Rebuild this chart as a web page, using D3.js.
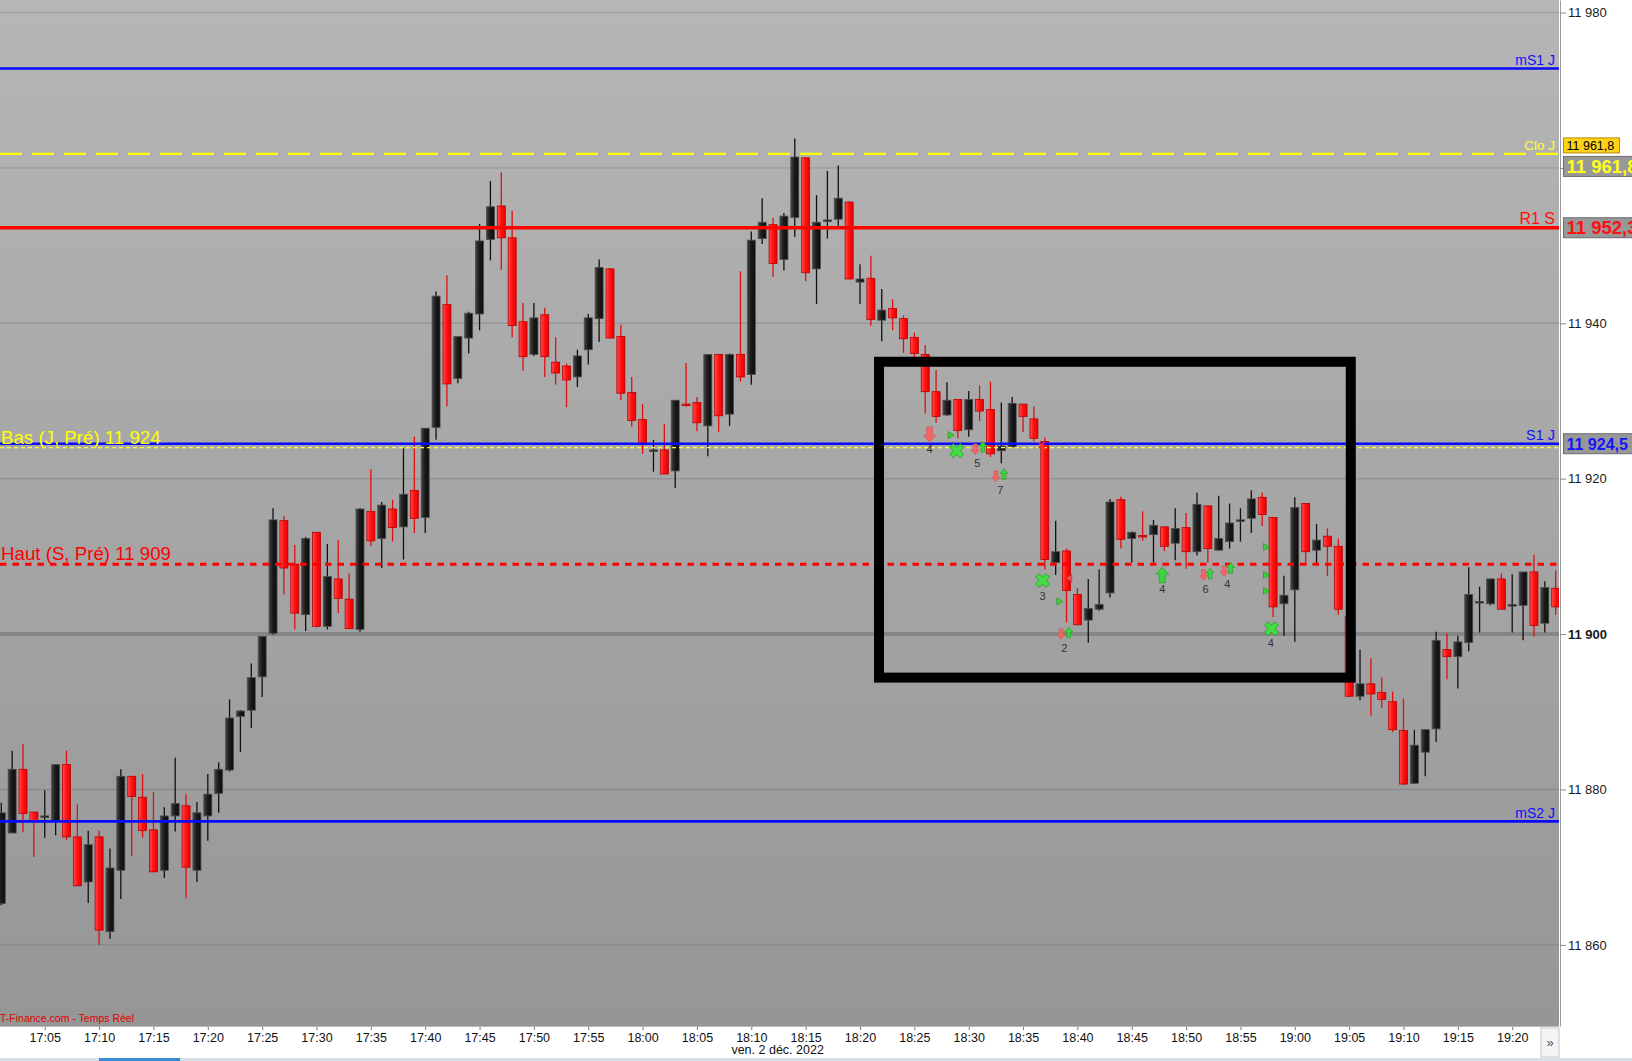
<!DOCTYPE html>
<html>
<head>
<meta charset="utf-8">
<script src="https://d3js.org/d3.v7.min.js"></script>
<style>
  body { margin: 0; background: #fff; overflow: hidden; }
  svg { display: block; font-family: "Liberation Sans", Arial, sans-serif; }
</style>
</head>
<body>
<svg class="chart"></svg>
<script>
// 1 minute candles, first one at 17:01
var firstCandle = "17:01";

var opens = [
  11865.3, 11874.4, 11882.6, 11877.1, 11876.5, 11875.9, 11883.2, 11873.9, 11868.1, 11873.9,
  11861.7, 11869.6, 11881.7, 11879.0, 11874.8, 11869.6, 11876.6, 11877.9, 11869.6, 11876.6,
  11879.5, 11882.5, 11889.4, 11890.2, 11894.5, 11900.1, 11914.6, 11909.0, 11902.5, 11913.1,
  11901.0, 11907.1, 11904.5, 11900.6, 11915.8, 11912.3, 11916.1, 11913.8, 11918.5, 11915.0,
  11926.6, 11942.4, 11932.9, 11938.1, 11941.2, 11950.8, 11955.1, 11951.0, 11940.2, 11936.0,
  11941.1, 11935.0, 11934.5, 11933.1, 11936.6, 11940.6, 11947.0, 11938.3, 11931.1, 11927.6,
  11923.6, 11923.7, 11921.0, 11929.6, 11929.8, 11926.8, 11936.0, 11928.3, 11936.0, 11933.4,
  11950.9, 11952.7, 11948.2, 11953.6, 11961.3, 11947.0, 11953.2, 11953.4, 11955.6, 11945.3,
  11945.8, 11940.4, 11941.9, 11940.6, 11938.2, 11936.0, 11931.2, 11928.2, 11930.2, 11926.3,
  11930.2, 11928.9, 11923.6, 11924.1, 11929.6, 11927.7, 11924.8, 11909.2, 11910.7, 11905.1,
  11901.8, 11903.2, 11905.3, 11917.3, 11912.3, 11912.7, 11912.8, 11913.8, 11911.7, 11913.7,
  11910.6, 11916.5, 11910.8, 11911.9, 11914.6, 11914.9, 11917.6, 11915.0, 11903.9, 11905.7,
  11916.8, 11910.8, 11912.6, 11911.3, 11902.2, 11892.0, 11893.6, 11892.5, 11891.3, 11887.6,
  11880.8, 11884.8, 11887.8, 11898.0, 11897.1, 11898.9, 11904.1, 11903.9, 11907.1, 11903.7,
  11903.7, 11908.0, 11901.4, 11905.9
];
var highs = [
  11878.3, 11885.0, 11885.9, 11877.1, 11879.9, 11883.2, 11885.0, 11878.1, 11874.7, 11874.7,
  11872.4, 11882.6, 11881.7, 11882.0, 11879.7, 11877.7, 11884.1, 11879.4, 11878.4, 11882.0,
  11883.5, 11891.6, 11890.2, 11896.2, 11899.7, 11916.2, 11915.2, 11911.5, 11912.5, 11913.1,
  11911.6, 11912.1, 11907.8, 11916.2, 11921.2, 11917.0, 11917.3, 11923.9, 11925.4, 11926.5,
  11944.1, 11946.2, 11938.3, 11941.5, 11952.8, 11958.3, 11959.4, 11954.5, 11942.6, 11942.6,
  11942.0, 11938.2, 11934.8, 11936.6, 11941.2, 11948.2, 11947.1, 11939.8, 11933.1, 11929.6,
  11925.0, 11927.0, 11930.1, 11934.9, 11930.5, 11936.0, 11936.0, 11936.1, 11946.7, 11951.8,
  11956.1, 11953.6, 11954.2, 11963.8, 11961.3, 11956.5, 11959.6, 11960.3, 11955.7, 11947.6,
  11948.7, 11944.4, 11943.1, 11941.0, 11938.8, 11937.2, 11934.0, 11932.4, 11930.2, 11931.3,
  11932.0, 11932.5, 11929.8, 11930.5, 11929.6, 11929.3, 11925.3, 11914.6, 11911.0, 11905.9,
  11907.1, 11908.3, 11917.4, 11917.7, 11913.2, 11915.8, 11914.7, 11913.8, 11916.2, 11915.6,
  11918.2, 11916.5, 11917.8, 11916.8, 11916.2, 11918.5, 11918.2, 11915.0, 11907.5, 11917.6,
  11916.8, 11914.2, 11913.6, 11912.3, 11902.3, 11898.0, 11896.9, 11894.4, 11892.6, 11891.7,
  11887.7, 11887.7, 11900.3, 11900.1, 11899.8, 11908.6, 11906.1, 11907.1, 11907.8, 11907.7,
  11908.0, 11910.2, 11906.8, 11908.2
];
var lows = [
  11865.1, 11874.4, 11874.5, 11871.3, 11873.8, 11874.1, 11873.5, 11867.6, 11865.4, 11860.0,
  11860.8, 11865.9, 11871.4, 11873.8, 11869.4, 11868.6, 11874.6, 11866.0, 11868.1, 11873.4,
  11877.0, 11882.3, 11884.8, 11887.9, 11891.9, 11899.9, 11905.1, 11900.6, 11900.4, 11900.9,
  11900.6, 11902.7, 11900.7, 11900.3, 11911.3, 11908.5, 11911.9, 11909.6, 11913.0, 11913.0,
  11925.0, 11929.3, 11932.3, 11936.1, 11939.1, 11948.1, 11946.9, 11938.2, 11933.9, 11935.8,
  11933.1, 11932.1, 11929.2, 11931.8, 11934.7, 11937.6, 11938.1, 11930.1, 11926.7, 11923.2,
  11920.9, 11920.6, 11918.8, 11929.3, 11926.1, 11922.9, 11926.0, 11926.8, 11932.5, 11932.1,
  11950.2, 11946.0, 11946.8, 11951.1, 11945.4, 11942.5, 11950.9, 11952.5, 11945.7, 11942.5,
  11939.7, 11937.7, 11939.1, 11936.2, 11935.5, 11928.4, 11927.2, 11928.1, 11925.2, 11925.4,
  11927.4, 11922.8, 11922.0, 11924.1, 11926.0, 11924.8, 11908.3, 11907.6, 11901.5, 11901.2,
  11898.9, 11903.0, 11904.7, 11911.0, 11909.2, 11912.0, 11909.2, 11910.7, 11909.5, 11908.4,
  11910.1, 11909.2, 11910.8, 11911.0, 11911.9, 11913.0, 11913.9, 11902.2, 11899.8, 11899.0,
  11908.9, 11909.0, 11907.5, 11902.5, 11891.9, 11891.5, 11889.5, 11890.5, 11887.4, 11880.6,
  11880.7, 11881.7, 11886.1, 11894.2, 11893.0, 11897.8, 11900.2, 11903.7, 11903.2, 11900.2,
  11899.2, 11899.7, 11900.2, 11902.5
];
var closes = [
  11877.0, 11882.6, 11876.9, 11875.9, 11876.6, 11883.2, 11873.9, 11867.6, 11872.9, 11861.9,
  11869.9, 11881.7, 11879.1, 11874.7, 11869.4, 11876.6, 11878.2, 11870.0, 11877.0, 11879.4,
  11882.6, 11889.2, 11890.1, 11894.4, 11899.7, 11914.7, 11908.5, 11902.7, 11912.3, 11901.0,
  11907.4, 11904.6, 11900.7, 11916.1, 11912.0, 11916.6, 11913.7, 11918.0, 11914.9, 11926.5,
  11943.5, 11932.2, 11938.3, 11941.3, 11950.6, 11955.0, 11951.0, 11939.7, 11935.7, 11940.7,
  11935.7, 11933.6, 11932.7, 11935.8, 11940.7, 11947.2, 11938.1, 11931.0, 11927.5, 11924.5,
  11923.7, 11920.6, 11930.1, 11929.5, 11927.2, 11936.0, 11928.1, 11936.0, 11933.1, 11950.7,
  11953.0, 11947.7, 11953.8, 11961.4, 11946.5, 11953.0, 11953.3, 11956.1, 11945.7, 11945.7,
  11940.5, 11941.7, 11940.7, 11938.0, 11936.1, 11931.2, 11928.0, 11930.1, 11926.2, 11930.2,
  11928.7, 11923.2, 11924.2, 11929.7, 11928.0, 11925.2, 11909.6, 11910.6, 11905.6, 11901.2,
  11903.3, 11903.8, 11917.0, 11912.2, 11913.1, 11912.6, 11914.0, 11911.3, 11913.6, 11910.6,
  11916.7, 11911.0, 11912.3, 11914.3, 11914.7, 11917.4, 11915.4, 11903.5, 11905.0, 11916.3,
  11910.6, 11912.1, 11911.3, 11903.2, 11892.0, 11893.6, 11892.3, 11891.6, 11887.7, 11880.7,
  11885.7, 11887.7, 11899.2, 11897.1, 11899.0, 11905.1, 11904.2, 11907.1, 11903.2, 11903.8,
  11908.0, 11901.1, 11906.0, 11903.5
];

var tickTimes = ["17:05", "17:10", "17:15", "17:20", "17:25", "17:30", "17:35", "17:40", "17:45",
  "17:50", "17:55", "18:00", "18:05", "18:10", "18:15", "18:20", "18:25", "18:30", "18:35",
  "18:40", "18:45", "18:50", "18:55", "19:00", "19:05", "19:10", "19:15", "19:20"];
var priceTicks = [11860, 11880, 11900, 11920, 11940, 11960, 11980];
var dateLabel = "ven. 2 déc. 2022";
var sourceLabel = "T-Finance.com - Temps Réel";

// pivot levels (right hand labels)
var levelNames = ["mS1 J", "Clo J", "R1 S", "S1 J", "mS2 J"];
var levelValues = [11972.8, 11961.8, 11952.3, 11924.5, 11875.9];

// previous high / low (left hand labels)
var prevNames = ["Bas (J, Pré)", "Haut (S, Pré)"];
var prevValues = [11924, 11909];

// price tags on the axis
var tagValues = [11961.8, 11961.8, 11952.3, 11924.5];

// signal markers: type, candle position, price
var markerTypes = ["dnL", "triR", "x", "dn", "up", "dn", "up", "xr", "x", "triL", "triR", "dn", "up",
  "upL", "dn", "up", "dn", "up", "triR", "triR", "triR", "x"];
var markerPos = [85.4, 87.3, 87.9, 89.6, 90.3, 91.5, 92.25, 95.7, 95.8, 98.3, 97.3, 97.5, 98.2,
  106.8, 110.6, 111.2, 112.5, 113.1, 116.3, 116.3, 116.3, 116.85];
var markerPrices = [11925.7, 11925.6, 11923.6, 11923.8, 11924.1, 11920.3, 11920.6, 11924.3, 11906.9, 11907.2, 11904.2, 11900.0, 11900.2,
  11907.6, 11907.6, 11907.8, 11908.1, 11908.5, 11911.2, 11907.6, 11905.55, 11900.7];

var countTexts = ["4", "5", "7", "3", "2", "4", "6", "4", "4"];
var countPos = [85.4, 89.8, 91.9, 95.8, 97.8, 106.8, 110.8, 112.8, 116.8];
var countPrices = [11923.8, 11922.0, 11918.5, 11904.95, 11898.2, 11905.8, 11905.8, 11906.4, 11898.9];

// highlighted zone (candle positions / prices)
var zoneFrom = 80.75, zoneTo = 124.15;
var zoneTop = 11935.05, zoneBottom = 11894.4;

var width = 1632, height = 1061;
var plotW = 1559, plotH = 1026;

var fr = d3.formatLocale({ decimal: ",", thousands: " ", grouping: [3], currency: ["", " €"] });
var fmt0 = fr.format(",.0f");
var fmt1 = fr.format(",.1f");

var levelStyle = {
  "mS1 J": { color: "#0a0aff", width: 2.6, dash: null, font: 14, text: "#1010ff" },
  "Clo J": { color: "#ffff00", width: 2.2, dash: "22,10", font: 13.5, text: "#ffff30" },
  "R1 S": { color: "#ff0000", width: 3.6, dash: null, font: 16, text: "#ff1010" },
  "S1 J": { color: "#0a0aff", width: 2.6, dash: null, font: 14.5, text: "#1010ff" },
  "mS2 J": { color: "#0a0aff", width: 2.6, dash: null, font: 14, text: "#1010ff" }
};
var prevStyle = {
  "Bas (J, Pré)": { color: "#ffff40", width: 1.2, dash: "4,3", text: "#ffff00" },
  "Haut (S, Pré)": { color: "#ff0000", width: 3, dash: "6.5,6", text: "#ff0000" }
};

function toIdx(t) {
  var p = t.split(":"), s = firstCandle.split(":");
  return (+p[0]) * 60 + (+p[1]) - ((+s[0]) * 60 + (+s[1]));
}

var x = d3.scaleLinear().domain([-0.117, 143.305]).range([0, plotW]);
var y = d3.scaleLinear().domain([11849.56, 11981.61]).range([plotH, 0]);

var chart = d3.select(".chart").attr("width", width).attr("height", height);
var defs = chart.append("defs");

var bg = defs.append("linearGradient").attr("id", "bgGrad").attr("x1", 0).attr("y1", 0).attr("x2", 0).attr("y2", 1);
bg.append("stop").attr("offset", "0%").attr("stop-color", "#b6b6b6");
bg.append("stop").attr("offset", "100%").attr("stop-color", "#969696");

var bk = defs.append("linearGradient").attr("id", "blackGrad").attr("x1", 0).attr("x2", 1);
bk.append("stop").attr("offset", "0%").attr("stop-color", "#444");
bk.append("stop").attr("offset", "45%").attr("stop-color", "#1b1b1b");
bk.append("stop").attr("offset", "100%").attr("stop-color", "#0c0c0c");

var rd = defs.append("linearGradient").attr("id", "redGrad").attr("x1", 0).attr("x2", 1);
rd.append("stop").attr("offset", "0%").attr("stop-color", "#ff5050");
rd.append("stop").attr("offset", "45%").attr("stop-color", "#ff1414");
rd.append("stop").attr("offset", "100%").attr("stop-color", "#e80000");

defs.append("clipPath").attr("id", "plotClip")
  .append("rect").attr("width", plotW).attr("height", plotH);

chart.append("rect").attr("width", plotW).attr("height", plotH).attr("fill", "url(#bgGrad)");

var plot = chart.append("g").attr("clip-path", "url(#plotClip)");

/* grid */
plot.selectAll(".grid").data(priceTicks.filter(function (d) { return d !== 11900; }))
  .enter().append("line")
  .attr("x1", 0).attr("x2", plotW)
  .attr("y1", function (d) { return y(d); }).attr("y2", function (d) { return y(d); })
  .attr("stroke", "#000").attr("stroke-opacity", 0.12).attr("stroke-width", 1.4);

plot.append("line")
  .attr("x1", 0).attr("x2", plotW).attr("y1", y(11900)).attr("y2", y(11900))
  .attr("stroke", "#868686").attr("stroke-width", 4);

/* candles */
var bar = plot.selectAll("g.candle")
  .data(d3.range(opens.length))
  .enter().append("g")
  .attr("class", "candle")
  .attr("transform", function (i) { return "translate(" + x(i) + ",0)"; });

function isUp(i) { return closes[i] >= opens[i]; }

bar.append("line")
  .attr("x1", 0).attr("x2", 0)
  .attr("y1", function (i) { return y(highs[i]); })
  .attr("y2", function (i) { return y(lows[i]); })
  .attr("stroke", function (i) { return isUp(i) ? "#111" : "#e01010"; })
  .attr("stroke-width", 1.3);

bar.append("rect")
  .attr("x", -4).attr("width", 8)
  .attr("y", function (i) { return y(Math.max(opens[i], closes[i])); })
  .attr("height", function (i) { return Math.max(1.6, Math.abs(y(opens[i]) - y(closes[i]))); })
  .attr("fill", function (i) { return isUp(i) ? "url(#blackGrad)" : "url(#redGrad)"; })
  .attr("stroke", function (i) { return isUp(i) ? "#4d4d4d" : "#b80000"; })
  .attr("stroke-width", 0.8);

/* level lines */
levelNames.forEach(function (name, k) {
  var s = levelStyle[name], v = levelValues[k];
  plot.append("line")
    .attr("x1", 0).attr("x2", plotW).attr("y1", y(v)).attr("y2", y(v))
    .attr("stroke", s.color).attr("stroke-width", s.width)
    .attr("stroke-dasharray", s.dash);
  plot.append("text")
    .attr("x", plotW - 4).attr("y", y(v) - 3.5)
    .attr("text-anchor", "end")
    .attr("font-size", s.font)
    .attr("fill", s.text)
    .text(name);
});

prevNames.forEach(function (name, k) {
  var s = prevStyle[name], v = prevValues[k];
  plot.append("line")
    .attr("x1", 0).attr("x2", plotW).attr("y1", y(v)).attr("y2", y(v))
    .attr("stroke", s.color).attr("stroke-width", s.width)
    .attr("stroke-dasharray", s.dash);
  plot.append("text")
    .attr("x", 1).attr("y", y(v) - 4)
    .attr("font-size", 18.7)
    .attr("fill", s.text)
    .text(name + " " + fmt0(v));
});

/* signal markers */
function arrowPath(down, w, h) {
  var sw = w * 0.46, hh = h / 2, s = down ? 1 : -1, m = hh * 0.1 * s;
  return "M" + (-sw / 2) + "," + (-hh * s) + "L" + (sw / 2) + "," + (-hh * s) +
    "L" + (sw / 2) + "," + m + "L" + (w / 2) + "," + m + "L0," + (hh * s) +
    "L" + (-w / 2) + "," + m + "L" + (-sw / 2) + "," + m + "Z";
}

var marks = plot.selectAll("g.mark")
  .data(d3.range(markerTypes.length))
  .enter().append("g")
  .attr("class", "mark")
  .attr("transform", function (k) { return "translate(" + x(markerPos[k]) + "," + y(markerPrices[k]) + ")"; });

marks.each(function (k) {
  var g = d3.select(this), t = markerTypes[k];
  if (t === "dn" || t === "dnL") {
    g.append("path").attr("d", t === "dnL" ? arrowPath(true, 12.5, 15) : arrowPath(true, 8, 10.5))
      .attr("fill", "#f26666").attr("stroke", "#d84c4c").attr("stroke-width", 0.6);
  } else if (t === "up" || t === "upL") {
    g.append("path").attr("d", t === "upL" ? arrowPath(false, 13, 15.5) : arrowPath(false, 8, 10.5))
      .attr("fill", "#3ed43e").attr("stroke", "#1f9a1f").attr("stroke-width", 0.6);
  } else if (t === "x") {
    g.append("path").attr("d", d3.symbol().type(d3.symbolCross).size(120)())
      .attr("transform", "rotate(45)")
      .attr("fill", "#44dd44").attr("stroke", "#22a022").attr("stroke-width", 0.8);
  } else if (t === "xr") {
    g.append("path").attr("d", "M-3,-3L3,3M-3,3L3,-3")
      .attr("stroke", "#ff2a2a").attr("stroke-width", 1.6);
  } else if (t === "triR" || t === "triL") {
    g.append("path").attr("d", d3.symbol().type(d3.symbolTriangle).size(22)())
      .attr("transform", t === "triR" ? "rotate(90)" : "rotate(-90)")
      .attr("fill", t === "triR" ? "#36d336" : "#f05050")
      .attr("stroke", t === "triR" ? "#1d8f1d" : "#c03030").attr("stroke-width", 0.6);
  }
});

plot.selectAll("text.count")
  .data(d3.range(countTexts.length))
  .enter().append("text")
  .attr("class", "count")
  .attr("x", function (k) { return x(countPos[k]); })
  .attr("y", function (k) { return y(countPrices[k]); })
  .attr("text-anchor", "middle")
  .attr("dominant-baseline", "central")
  .attr("font-size", 11)
  .attr("fill", "#333")
  .text(function (k) { return countTexts[k]; });

/* highlighted zone */
plot.append("rect")
  .attr("x", x(zoneFrom)).attr("y", y(zoneTop))
  .attr("width", x(zoneTo) - x(zoneFrom))
  .attr("height", y(zoneBottom) - y(zoneTop))
  .attr("fill", "none").attr("stroke", "#000").attr("stroke-width", 10);

plot.append("text")
  .attr("x", 0).attr("y", plotH - 4)
  .attr("font-size", 10.5).attr("fill", "#e00000")
  .text(sourceLabel);

/* right axis */
chart.append("rect").attr("x", plotW).attr("width", width - plotW).attr("height", height).attr("fill", "#fff");

var yAxis = d3.axisRight(y).tickValues(priceTicks).tickSize(6).tickSizeOuter(0).tickPadding(2)
  .tickFormat(fmt0);
var ya = chart.append("g").attr("transform", "translate(" + (plotW + 1) + ",0)").call(yAxis);
ya.select(".domain").attr("stroke", "#9a9a9a");
ya.selectAll(".tick line").attr("stroke", "#8a8a8a");
ya.selectAll(".tick text")
  .attr("font-family", "Liberation Sans, Arial, sans-serif")
  .attr("font-size", 13).attr("fill", "#1a1a1a")
  .attr("font-weight", function (d) { return d === 11900 ? "bold" : "normal"; });

/* price tags */
var tagColors = ["#000", "#ffff20", "#ff1010", "#1414ff"];
var tagFonts = [12.5, 18.5, 18.5, 16];
tagValues.forEach(function (v, k) {
  var cy, h, fill, stroke;
  if (k === 0) {
    cy = y(v) - 8.5; h = 15; fill = "#ffd21a"; stroke = "#b88a00";
  } else {
    cy = y(v) + (k === 1 ? 12.5 : 0); h = 20; fill = "#989898"; stroke = "#6c6c6c";
  }
  var gx = plotW + 4.5;
  var tag = chart.append("g");
  tag.append("rect")
    .attr("x", gx).attr("y", cy - h / 2)
    .attr("width", k === 0 ? 56 : 80).attr("height", h)
    .attr("fill", fill).attr("stroke", stroke).attr("stroke-width", 1);
  tag.append("text")
    .attr("x", gx + 3).attr("y", cy + (k === 0 ? 4.5 : 6.5))
    .attr("font-size", tagFonts[k]).attr("font-weight", k === 0 ? "normal" : "bold")
    .attr("fill", tagColors[k])
    .text(fmt1(v));
});

/* bottom axis */
var xAxis = d3.axisBottom(x)
  .tickValues(tickTimes.map(toIdx))
  .tickFormat(function (d, i) { return tickTimes[i]; })
  .tickSize(4).tickPadding(3);
var xa = chart.append("g").attr("transform", "translate(0," + plotH + ")").call(xAxis);
xa.select(".domain").remove();
xa.selectAll(".tick line").attr("stroke", "#777");
xa.selectAll(".tick text")
  .attr("font-family", "Liberation Sans, Arial, sans-serif")
  .attr("font-size", 12.5).attr("fill", "#111");

chart.append("line")
  .attr("x1", 0).attr("x2", plotW).attr("y1", plotH + 0.5).attr("y2", plotH + 0.5)
  .attr("stroke", "#b8b8b8");

chart.append("text")
  .attr("x", x(toIdx("18:15")) - 28).attr("y", plotH + 28)
  .attr("text-anchor", "middle")
  .attr("font-size", 12.5).attr("fill", "#111")
  .text(dateLabel);

chart.append("rect")
  .attr("x", plotW - 18).attr("y", plotH + 2).attr("width", 18).attr("height", 29)
  .attr("fill", "#f4f4f4").attr("stroke", "#c8c8c8");
chart.append("text")
  .attr("x", plotW - 9).attr("y", plotH + 21)
  .attr("text-anchor", "middle").attr("font-size", 13).attr("fill", "#555")
  .text("»");

chart.append("rect").attr("y", height - 3).attr("width", width).attr("height", 3).attr("fill", "#d4e0ea");
chart.append("rect").attr("x", 99).attr("y", height - 3).attr("width", 81).attr("height", 3).attr("fill", "#3a8ad6");
</script>
</body>
</html>
